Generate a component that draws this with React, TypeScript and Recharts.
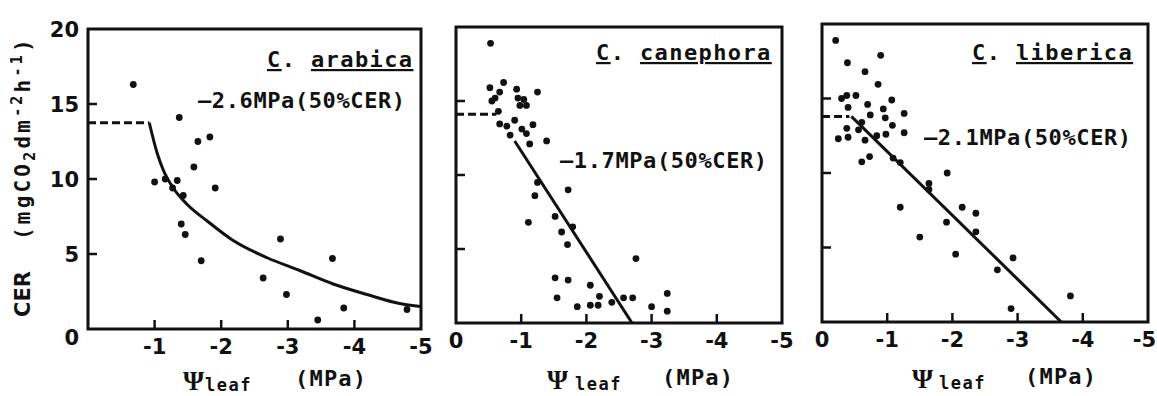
import React from "react";
import {
  ComposedChart,
  Scatter,
  Line,
  XAxis,
  YAxis,
  ReferenceArea,
} from "recharts";

// ---------- data ----------
const xTicks = [0, -1, -2, -3, -4, -5];
const xTickLabels = ["0", "-1", "-2", "-3", "-4", "-5"];
const yTicks = [0, 5, 10, 15, 20];
const yTickLabels = ["0", "5", "10", "15", "20"];

const speciesNames = ["arabica", "canephora", "liberica"];
const halfCerLabels = ["\u20142.6MPa(50%CER)", "\u20141.7MPa(50%CER)", "\u20142.1MPa(50%CER)"];

const arabicaPoints = [
  { x: -0.68, y: 16.3 }, { x: -1.37, y: 14.1 }, { x: -1.65, y: 12.5 }, { x: -1.83, y: 12.8 },
  { x: -1.59, y: 10.8 }, { x: -1.91, y: 9.4 }, { x: -1.0, y: 9.8 }, { x: -1.16, y: 10.0 },
  { x: -1.34, y: 9.9 }, { x: -1.27, y: 9.4 }, { x: -1.43, y: 8.9 }, { x: -1.4, y: 7.0 },
  { x: -1.46, y: 6.3 }, { x: -1.7, y: 4.55 }, { x: -2.63, y: 3.4 }, { x: -2.89, y: 6.0 },
  { x: -2.98, y: 2.3 }, { x: -3.45, y: 0.6 }, { x: -3.67, y: 4.7 }, { x: -3.84, y: 1.4 },
  { x: -4.79, y: 1.3 },
];
const arabicaPlateau = [{ x: 0, y: 13.75 }, { x: -0.92, y: 13.75 }];
const arabicaCurve = [
  { x: -0.92, y: 13.75 }, { x: -1.04, y: 11.7 }, { x: -1.13, y: 10.6 }, { x: -1.28, y: 9.4 },
  { x: -1.49, y: 8.3 }, { x: -1.79, y: 7.2 }, { x: -2.18, y: 5.9 }, { x: -2.69, y: 4.75 },
  { x: -3.18, y: 3.9 }, { x: -3.68, y: 3.0 }, { x: -4.19, y: 2.3 }, { x: -4.68, y: 1.7 },
  { x: -5.0, y: 1.5 },
];

const canephoraPoints = [
  { x: -0.53, y: 18.9 }, { x: -0.52, y: 15.9 }, { x: -0.73, y: 16.25 }, { x: -0.67, y: 15.6 },
  { x: -0.6, y: 15.2 }, { x: -0.55, y: 15.0 }, { x: -0.93, y: 15.8 }, { x: -0.95, y: 15.2 },
  { x: -0.98, y: 14.7 }, { x: -1.08, y: 14.7 }, { x: -1.25, y: 15.6 }, { x: -1.04, y: 15.1 },
  { x: -0.65, y: 14.3 }, { x: -0.67, y: 13.45 }, { x: -0.78, y: 13.3 }, { x: -0.9, y: 13.7 },
  { x: -0.83, y: 12.7 }, { x: -1.01, y: 13.1 }, { x: -1.08, y: 12.8 }, { x: -1.18, y: 13.4 },
  { x: -1.13, y: 12.1 }, { x: -1.39, y: 12.3 }, { x: -1.25, y: 9.5 }, { x: -1.21, y: 8.6 },
  { x: -1.72, y: 9.0 }, { x: -1.11, y: 6.8 }, { x: -1.52, y: 7.2 }, { x: -1.62, y: 6.15 },
  { x: -1.79, y: 6.5 }, { x: -1.71, y: 5.3 }, { x: -2.76, y: 4.35 }, { x: -1.52, y: 3.05 },
  { x: -1.72, y: 2.9 }, { x: -1.55, y: 1.7 }, { x: -1.86, y: 1.1 }, { x: -2.06, y: 2.55 },
  { x: -2.06, y: 1.2 }, { x: -2.2, y: 1.8 }, { x: -2.18, y: 1.2 }, { x: -2.39, y: 1.4 },
  { x: -2.57, y: 1.7 }, { x: -2.71, y: 1.7 }, { x: -3.0, y: 1.1 }, { x: -3.24, y: 2.0 },
  { x: -3.24, y: 0.8 },
];
const canephoraPlateau = [{ x: 0, y: 14.1 }, { x: -0.62, y: 14.1 }];
const canephoraLine = [{ x: -0.9, y: 12.3 }, { x: -2.7, y: 0 }];

const libericaPoints = [
  { x: -0.21, y: 18.9 }, { x: -0.39, y: 17.4 }, { x: -0.9, y: 17.9 }, { x: -0.66, y: 16.8 },
  { x: -0.86, y: 15.95 }, { x: -0.38, y: 15.2 }, { x: -0.52, y: 15.2 }, { x: -0.3, y: 15.0 },
  { x: -1.07, y: 14.9 }, { x: -0.7, y: 14.6 }, { x: -0.94, y: 14.3 }, { x: -1.26, y: 14.0 },
  { x: -0.4, y: 14.4 }, { x: -0.74, y: 13.9 }, { x: -0.97, y: 13.7 }, { x: -1.08, y: 13.2 },
  { x: -0.61, y: 13.4 }, { x: -0.38, y: 13.0 }, { x: -0.56, y: 12.9 }, { x: -0.25, y: 12.3 },
  { x: -0.4, y: 12.4 }, { x: -0.66, y: 12.2 }, { x: -0.84, y: 12.5 }, { x: -0.98, y: 12.6 },
  { x: -1.26, y: 12.7 }, { x: -0.61, y: 10.75 }, { x: -0.73, y: 11.1 }, { x: -1.09, y: 11.0 },
  { x: -1.2, y: 10.7 }, { x: -1.92, y: 10.0 }, { x: -1.64, y: 9.3 }, { x: -1.64, y: 8.9 },
  { x: -1.2, y: 7.7 }, { x: -2.15, y: 7.7 }, { x: -2.36, y: 7.3 }, { x: -1.91, y: 6.7 },
  { x: -2.36, y: 6.05 }, { x: -1.5, y: 5.7 }, { x: -2.05, y: 4.55 }, { x: -2.93, y: 4.3 },
  { x: -2.69, y: 3.5 }, { x: -3.81, y: 1.75 }, { x: -2.9, y: 0.9 },
];
const libericaPlateau = [{ x: 0, y: 13.8 }, { x: -0.42, y: 13.8 }];
const libericaLine = [{ x: -0.45, y: 13.8 }, { x: -3.67, y: 0 }];

// ---------- styles ----------
const MONO = "'DejaVu Sans Mono', monospace";
const SANS = "'DejaVu Sans', sans-serif";
const SERIF = "'Liberation Serif', serif";
const INK = "#111";

const panels = [
  {
    points: arabicaPoints, plateau: arabicaPlateau, fit: arabicaCurve, fitType: "monotone",
    left: 0, width: 440, margin: { top: 29, bottom: 37, left: 48, right: 19 }, yWidth: 40,
    showYLabels: true, showZero: false, endAnchor: false,
  },
  {
    points: canephoraPoints, plateau: canephoraPlateau, fit: canephoraLine, fitType: "linear",
    left: 430, width: 370, margin: { top: 27, bottom: 43, left: 6, right: 18 }, yWidth: 20,
    showYLabels: false, showZero: true, endAnchor: false,
  },
  {
    points: libericaPoints, plateau: libericaPlateau, fit: libericaLine, fitType: "linear",
    left: 795, width: 362, margin: { top: 24, bottom: 44, left: 7, right: 9 }, yWidth: 20,
    showYLabels: false, showZero: true, endAnchor: true,
  },
];

const XTick = (props: any) => {
  const { x, y, payload, showZero, endAnchor } = props;
  const v = payload.value;
  const idx = xTicks.indexOf(v);
  const mark = v !== 0 && v !== -5;
  const showLabel = showZero || v !== 0;
  const last = endAnchor && v === -5;
  return (
    <g>
      {mark && <line x1={x} x2={x} y1={y} y2={y - 9} stroke={INK} strokeWidth={2.5} />}
      {showLabel && (
        <text
          x={last ? x + 8 : x}
          y={y + 25}
          textAnchor={last ? "end" : "middle"}
          fontFamily={SANS}
          fontWeight="bold"
          fontSize={21}
          fill={INK}
        >
          {xTickLabels[idx]}
        </text>
      )}
    </g>
  );
};

const YTick = (props: any) => {
  const { x, y, payload, showLabels } = props;
  const v = payload.value;
  const idx = yTicks.indexOf(v);
  const mark = v !== 0 && v !== 20;
  return (
    <g>
      {mark && <line x1={x} x2={x + 9} y1={y} y2={y} stroke={INK} strokeWidth={2.5} />}
      {showLabels && (
        <text x={x - 9} y={y + 7.5 + (v === 0 ? 8 : 0)} textAnchor="end" fontFamily={SANS} fontWeight="bold" fontSize={21} fill={INK}>
          {yTickLabels[idx]}
        </text>
      )}
    </g>
  );
};

const Dot = (p: any) => <circle cx={p.cx} cy={p.cy} r={3.4} fill={INK} />;

const Panel = ({ cfg }: { cfg: any }) => (
  <div style={{ position: "absolute", left: cfg.left, top: 0 }}>
    <ComposedChart width={cfg.width} height={396} margin={cfg.margin}>
      <XAxis
        type="number"
        dataKey="x"
        domain={[-5, 0]}
        reversed
        ticks={xTicks}
        interval={0}
        tickSize={0}
        tickMargin={0}
        tickLine={false}
        axisLine={false}
        height={30}
        allowDataOverflow
        tick={(p: any) => <XTick {...p} showZero={cfg.showZero} endAnchor={cfg.endAnchor} />}
      />
      <YAxis
        type="number"
        dataKey="y"
        domain={[0, 20]}
        ticks={yTicks}
        interval={0}
        tickSize={0}
        tickMargin={0}
        tickLine={false}
        axisLine={false}
        width={cfg.yWidth}
        allowDataOverflow
        tick={(p: any) => <YTick {...p} showLabels={cfg.showYLabels} />}
      />
      <ReferenceArea x1={0} x2={-5} y1={0} y2={20} fill="none" fillOpacity={0} stroke={INK} strokeWidth={3} ifOverflow="visible" />
      <Line data={cfg.plateau} dataKey="y" type="linear" stroke={INK} strokeWidth={3} strokeDasharray="8 4" dot={false} isAnimationActive={false} />
      <Line data={cfg.fit} dataKey="y" type={cfg.fitType} stroke={INK} strokeWidth={3} dot={false} isAnimationActive={false} />
      <Scatter data={cfg.points} dataKey="y" fill={INK} shape={Dot} isAnimationActive={false} />
    </ComposedChart>
  </div>
);

const titlePos = [
  { x: 267, y: 67 },
  { x: 596, y: 60 },
  { x: 972, y: 60 },
];
const notePos = [
  { x: 198, y: 108 },
  { x: 560, y: 168 },
  { x: 924, y: 145 },
];
const xTitlePos = [
  { psi: 183, leaf: 205, mpa: 295, y: 386 },
  { psi: 547, leaf: 575, mpa: 662, y: 385 },
  { psi: 912, leaf: 939, mpa: 1025, y: 384 },
];

const underline: React.CSSProperties = {
  textDecoration: "underline",
  textDecorationThickness: "2px",
  textUnderlineOffset: "4px",
} as any;

const Overlay = () => (
  <svg width={1157} height={396} style={{ position: "absolute", left: 0, top: 0, pointerEvents: "none" }}>
    {/* y axis title */}
    <text transform="rotate(-90)" x={-317} y={30} fontFamily={SANS} fontWeight="bold" fontSize={21} fill={INK}>
      CER
    </text>
    <text transform="rotate(-90)" x={-240} y={30} fontFamily={MONO} fontWeight="bold" fontSize={21} letterSpacing={3.2} fill={INK}>
      (mgCO
      <tspan dy={5} fontSize={15}>2</tspan>
      <tspan dy={-5}>dm</tspan>
      <tspan dy={-8} fontSize={15}>-2</tspan>
      <tspan dy={8}>h</tspan>
      <tspan dy={-8} fontSize={15}>-1</tspan>
      <tspan dy={8}>)</tspan>
    </text>
    {speciesNames.map((name, i) => (
      <text key={"t" + i} x={titlePos[i].x} y={titlePos[i].y} fontFamily={MONO} fontSize={22} letterSpacing={1.4} fill={INK} fontWeight="bold">
        <tspan style={underline}>C</tspan>
        {". "}
        <tspan style={underline}>{name}</tspan>
      </text>
    ))}
    {halfCerLabels.map((s, i) => (
      <text key={"n" + i} x={notePos[i].x} y={notePos[i].y} fontFamily={MONO} fontSize={22} letterSpacing={0.6} fill={INK} fontWeight="bold">
        {s}
      </text>
    ))}
    {xTitlePos.map((p, i) => (
      <g key={"x" + i}>
        <text x={p.psi} y={p.y + 4} fontFamily={SERIF} fontWeight="bold" fontSize={27} fill={INK}>
          Ψ
        </text>
        <text x={p.leaf} y={p.y + 5} fontFamily={MONO} fontWeight="bold" fontSize={17} letterSpacing={1.5} fill={INK}>
          leaf
        </text>
        <text x={p.mpa} y={p.y} fontFamily={MONO} fontSize={22} letterSpacing={1.2} fill={INK} fontWeight="bold">
          (MPa)
        </text>
      </g>
    ))}
  </svg>
);

export default function App() {
  return (
    <div style={{ position: "absolute", left: 0, top: 0, width: 1157, height: 396, background: "#fff", overflow: "hidden" }}>
      {panels.map((cfg, i) => (
        <Panel key={i} cfg={cfg} />
      ))}
      <Overlay />
    </div>
  );
}
